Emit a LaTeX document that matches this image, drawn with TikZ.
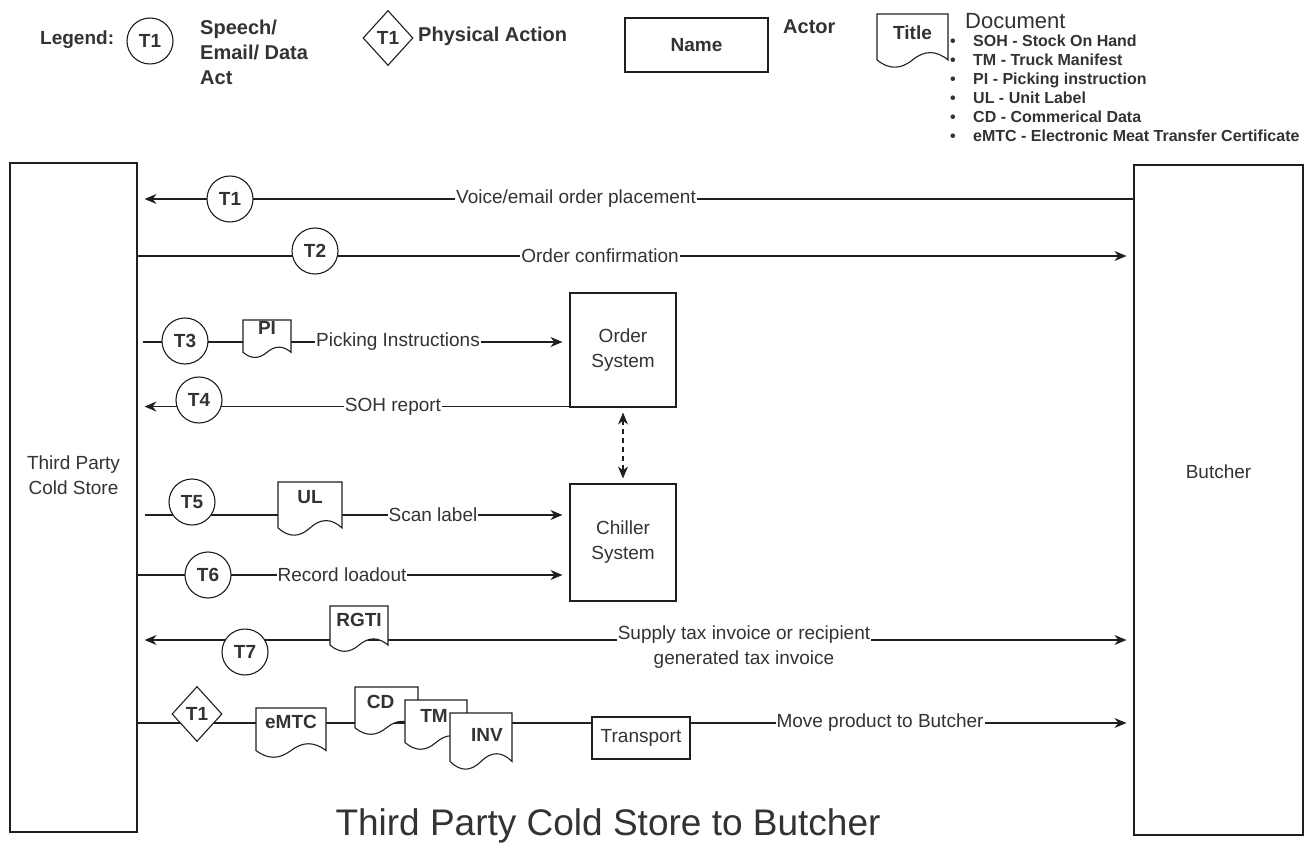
\documentclass[tikz,border=0pt]{standalone}
\usepackage{fontspec}
\setmainfont{Liberation Sans}
\usetikzlibrary{arrows.meta,shapes.geometric,calc}
\definecolor{ink}{HTML}{1F1F1F}
\definecolor{txt}{HTML}{333333}
\pgfdeclarelayer{lines}
\pgfdeclarelayer{docs}
\pgfsetlayers{lines,docs,main}
\newcommand\fsl{\fontsize{19}{25}\selectfont}
\newcommand\fsg{\fontsize{20}{25}\selectfont}
\newcommand\fss{\fontsize{16}{19}\selectfont}
\newcommand\docoutline[1]{%
  \begin{pgfonlayer}{docs}
  \draw[docline] let \p1=(#1.north west), \p2=(#1.south east),
     \n1={\x2-\x1}, \n2={\y1-\y2} in
   (\p1) -- (\x2,\y1) -- (\x2,{\y2+0.15*\n2})
   .. controls ({\x1+0.8333*\n1},{\y2+0.33*\n2}) and ({\x1+0.6667*\n1},{\y2+0.33*\n2}) .. ({\x1+0.5*\n1},{\y2+0.15*\n2})
   .. controls ({\x1+0.3333*\n1},{\y2-0.03*\n2}) and ({\x1+0.1667*\n1},{\y2-0.03*\n2}) .. (\x1,{\y2+0.15*\n2}) -- cycle;
  \end{pgfonlayer}}
\tikzset{
  tip/.tip={Stealth[length=12pt,width=10pt,inset=4pt]},
  conn/.style={draw=ink, line width=1.1pt},
  arr/.style={conn, -tip, shorten >=7pt},
  dblarr/.style={conn, tip-tip, shorten >=7pt, shorten <=7pt},
  dasharr/.style={conn, dash pattern=on 5pt off 4pt, tip-tip, shorten >=5pt, shorten <=5pt},
  tcirc/.style={circle, draw=ink, fill=white, line width=1.1pt, minimum size=46pt, inner sep=0pt, font=\fsl\bfseries, text=txt},
  tdiam/.style={diamond, draw=ink, fill=white, line width=1.1pt, minimum width=50pt, minimum height=55pt, inner sep=0pt, font=\fsl\bfseries, text=txt},
  actor/.style={rectangle, draw=ink, fill=white, line width=1.1pt, inner sep=0pt, font=\fsl, text=txt, align=center},
  docnode/.style={rectangle, inner sep=0pt, outer sep=0pt},
  doclabel/.style={font=\fsl\bfseries, text=txt, inner sep=0pt, anchor=center},
  docline/.style={draw=ink, fill=white, line width=1.1pt},
  elabel/.style={fill=white, inner sep=1pt, font=\fsl, text=txt},
  lgtext/.style={font=\fsg\bfseries, text=txt, inner sep=0pt},
}
\begin{document}
\begin{tikzpicture}[x=1pt,y=-1pt]
\useasboundingbox (0,0) rectangle (1315,850);
\begin{pgfonlayer}{lines}
\fill[white] (0,0) rectangle (1315,850);
\end{pgfonlayer}

% ---------- legend ----------
\node[lgtext, font=\fsl\bfseries, anchor=west] (lg) at (40,40) {Legend:};
\node[tcirc] (lgc) at (150,41) {T1};
\node[lgtext, anchor=west, align=left] (lgct) at (200,52) {Speech/\\Email/ Data\\Act};
\node[tdiam] (lgd) at (388,38) {T1};
\node[lgtext, anchor=west] (lgdt) at (418,36) {Physical Action};
\node[actor, minimum width=143pt, minimum height=54pt, font=\fsl\bfseries] (lgn) at (696.5,45) {Name};
\node[lgtext, anchor=west] (lgat) at (783,27) {Actor};
\node[docnode, minimum width=71pt, minimum height=54pt, label={[doclabel,yshift=-19pt]north:Title}] (lgdoc) at (912.5,41) {};
\docoutline{lgdoc}
\node[anchor=west, font=\fontsize{22}{24}\selectfont, text=txt, inner sep=0pt] (lgdh) at (965,21) {Document};
\node[anchor=west, align=left, font=\fss\bfseries, text=txt, inner sep=0pt] (lgl) at (950,88)
 {\makebox[23pt][l]{\textbullet}SOH - Stock On Hand\\
  \makebox[23pt][l]{\textbullet}TM - Truck Manifest\\
  \makebox[23pt][l]{\textbullet}PI - Picking instruction\\
  \makebox[23pt][l]{\textbullet}UL - Unit Label\\
  \makebox[23pt][l]{\textbullet}CD - Commerical Data\\
  \makebox[23pt][l]{\textbullet}eMTC - Electronic Meat Transfer Certificate};

% ---------- actors ----------
\node[actor, minimum width=127pt, minimum height=669pt, label={[actor,draw=none,fill=none,yshift=22pt]center:Third Party\\Cold Store}] (tpcs) at (73.5,497.5) {};
\node[actor, minimum width=169pt, minimum height=670pt, label={[actor,draw=none,fill=none,yshift=28pt]center:Butcher}] (butcher) at (1218.5,500) {};
\node[actor, minimum width=106pt, minimum height=114pt] (order) at (623,350) {Order\\System};
\node[actor, minimum width=106pt, minimum height=117pt] (chiller) at (623,542.5) {Chiller\\System};

% ---------- row 1 ----------
\node[tcirc] (t1) at (230,199) {T1};
\node[elabel] (l1) at (576,199) {Voice/email order placement};
% ---------- row 2 ----------
\node[tcirc] (t2) at (315,251) {T2};
\node[elabel] (l2) at (600,256) {Order confirmation};
% ---------- row 3 ----------
\coordinate (r3s) at (143,342);
\node[tcirc] (t3) at (185,341) {T3};
\node[docnode, minimum width=48pt, minimum height=38pt, label={[doclabel,yshift=-8pt]north:PI}] (pi) at (267,339) {};
\docoutline{pi}
\node[elabel] (l3) at (398,342) {Picking Instructions};
% ---------- row 4 ----------
\coordinate (r4s) at ([yshift=1pt]order.south west);
\node[tcirc] (t4) at (199,400) {T4};
\node[elabel] (l4) at (393,407) {SOH report};
% ---------- row 5 ----------
\coordinate (r5s) at (145,515);
\node[tcirc] (t5) at (192,502) {T5};
\node[docnode, minimum width=64pt, minimum height=54pt, label={[doclabel,yshift=-15pt]north:UL}] (ul) at (310,509) {};
\docoutline{ul}
\node[elabel] (l5) at (433,515) {Scan label};
% ---------- row 6 ----------
\node[tcirc] (t6) at (208,575) {T6};
\node[elabel] (l6) at (342,575) {Record loadout};
% ---------- row 7 ----------
\coordinate (r7) at (700,640);
\node[tcirc] (t7) at (245,652) {T7};
\node[docnode, minimum width=58pt, minimum height=46pt, label={[doclabel,yshift=-14pt]north:RGTI}] (rgti) at (359,629) {};
\docoutline{rgti}
\node[elabel, align=center] (l7) at (744,647.5) {Supply tax invoice or recipient\\generated tax invoice};
% ---------- row 8 ----------
\node[tdiam] (pa1) at (197,714) {T1};
\node[docnode, minimum width=70pt, minimum height=50pt, label={[doclabel,yshift=-14pt]north:eMTC}] (emtc) at (291,733) {};
\docoutline{emtc}
\node[docnode, minimum width=63pt, minimum height=48pt, label={[doclabel,xshift=-6pt,yshift=-15pt]north:CD}] (cd) at (386.5,711) {};
\docoutline{cd}
\node[docnode, minimum width=62pt, minimum height=50pt, label={[doclabel,xshift=-2pt,yshift=-16pt]north:TM}] (tm) at (436,725) {};
\docoutline{tm}
\node[docnode, minimum width=62pt, minimum height=57pt, label={[doclabel,xshift=6pt,yshift=-22pt]north:INV}] (inv) at (481,741.5) {};
\docoutline{inv}
\node[actor, minimum width=98pt, minimum height=42pt] (transport) at (641,738) {Transport};
\node[elabel] (l8) at (880,723) {Move product to Butcher};

% ---------- title ----------
\node[font=\fontsize{37}{40}\selectfont, text=txt, inner sep=0pt] (title) at (608,826) {Third Party Cold Store to Butcher};

% ---------- connectors ----------
\begin{pgfonlayer}{lines}
\draw[arr] (butcher.west |- t1) -- (tpcs.east |- t1);
\draw[arr] (tpcs.east |- l2) -- (butcher.west |- l2);
\draw[arr] (r3s) -- (order.west |- r3s);
\draw[arr] (r4s) -- (tpcs.east |- r4s);
\draw[arr] (r5s) -- (chiller.west |- r5s);
\draw[arr] (tpcs.east |- l6) -- (chiller.west |- l6);
\draw[dblarr] (tpcs.east |- r7) -- (butcher.west |- r7);
\draw[arr] (tpcs.east |- l8) -- (butcher.west |- l8);
\draw[dasharr] (order.south) -- (chiller.north);
\end{pgfonlayer}
\end{tikzpicture}
\end{document}
